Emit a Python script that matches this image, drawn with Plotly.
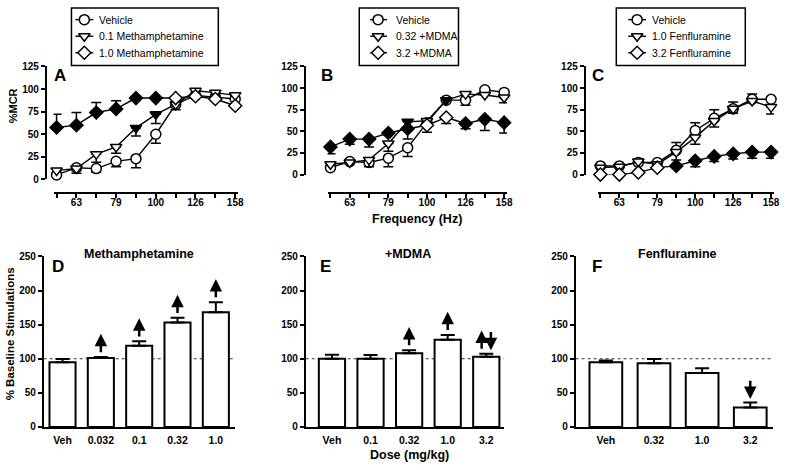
import plotly.graph_objects as go

W, H = 789, 470
FONT = "Liberation Sans, Arial, sans-serif"


def px(x):
    return x / W


def py(y):
    return 1 - y / H


# ---------------- data ----------------
freq_ticks = ["", "63", "", "79", "", "100", "", "126", "", "158"]
freq_idx = list(range(10))

# Panel A
a_veh = [5, 13, 12, 20, 23, 50, 83, 93, 91, 89]
a_veh_lo = [0, 3, 4, 6, 10, 10, 0, 0, 0, 0]
a_veh_hi = [0, 0, 0, 0, 0, 0, 0, 0, 0, 0]
a_veh_fill = [0] * 10
a_m01 = [10, 12, 28, 36, 57, 72, 83, 98, 96, 93]
a_m01_lo = [0, 5, 9, 7, 9, 10, 6, 0, 0, 0]
a_m01_hi = [0] * 10
a_m01_fill = [0, 0, 0, 0, 1, 1, 0, 0, 0, 0]
a_m10 = [57.5, 60, 74, 78, 90, 90, 90, 92, 89, 81.5]
a_m10_lo = [0] * 10
a_m10_hi = [14.5, 14, 11, 9, 0, 0, 0, 0, 0, 0]
a_m10_fill = [1, 1, 1, 1, 1, 1, 0, 0, 0, 0]

# Panel B
b_veh = [8, 15, 14, 19, 31, 60, 86, 86, 98, 95]
b_veh_lo = [0, 0, 0, 10, 10, 0, 0, 6, 0, 0]
b_veh_hi = [0] * 10
b_veh_fill = [0] * 10
b_d032 = [12, 14, 17, 36, 61, 62, 86, 93, 92, 89]
b_d032_lo = [0, 0, 8, 9, 0, 0, 0, 0, 0, 6]
b_d032_hi = [0] * 10
b_d032_fill = [0, 0, 0, 0, 1, 0, 1, 0, 0, 0]
b_d32 = [32, 41, 41, 48, 53, 57, 66, 59, 64, 60]
b_d32_lo = [8, 6, 9, 0, 12, 8, 7, 6, 13, 12]
b_d32_hi = [0] * 10
b_d32_fill = [1, 1, 1, 1, 1, 0, 0, 1, 1, 1]

# Panel C
c_veh = [10, 10, 14, 14, 28, 51, 65, 76, 87, 87]
c_veh_lo = [0] * 10
c_veh_hi = [0, 0, 4, 0, 9, 9, 10, 8, 6, 0]
c_veh_fill = [0] * 10
c_f10 = [8, 9, 15, 12, 26, 43, 62, 76, 85, 78]
c_f10_lo = [0, 0, 0, 0, 9, 8, 7, 5, 0, 8]
c_f10_hi = [0] * 10
c_f10_fill = [0] * 10
c_f32 = [0, 0, 2.5, 8, 10, 16, 21, 24, 26, 26]
c_f32_lo = [0, 0, 0, 0, 0, 7, 6, 6, 7, 7]
c_f32_hi = [0] * 10
c_f32_fill = [0, 0, 0, 0, 1, 1, 1, 1, 1, 1]

# Legend labels
leg_a = ["Vehicle", "0.1 Methamphetamine", "1.0 Methamphetamine"]
leg_b = ["Vehicle", "0.32 +MDMA", "3.2 +MDMA"]
leg_c = ["Vehicle", "1.0 Fenfluramine", "3.2 Fenfluramine"]

# Bar panels
d_doses = ["Veh", "0.032", "0.1", "0.32", "1.0"]
d_mean = [95, 101, 119, 153, 168]
d_err = [4.5, 1.5, 6.5, 7, 15]
d_arrow = ["", "up", "up", "up", "up"]

e_doses = ["Veh", "0.1", "0.32", "1.0", "3.2"]
e_mean = [100, 100, 108, 128, 103]
e_err = [6, 5.5, 4.5, 7, 4.5]
e_arrow = ["", "", "up", "up", "both"]

f_doses = ["Veh", "0.32", "1.0", "3.2"]
f_mean = [95, 93.5, 79, 28.5]
f_err = [2.5, 6, 7, 7.5]
f_arrow = ["", "", "", "down"]

fig = go.Figure()

SYMS = ["circle", "triangle-down", "diamond"]
SIZES = {"circle": 10, "triangle-down": 10, "diamond": 10}

# ---------------- line panels ----------------
line_panels = [
    ("x", "y", [
        (a_veh, a_veh_lo, a_veh_hi, a_veh_fill),
        (a_m01, a_m01_lo, a_m01_hi, a_m01_fill),
        (a_m10, a_m10_lo, a_m10_hi, a_m10_fill),
    ]),
    ("x2", "y2", [
        (b_veh, b_veh_lo, b_veh_hi, b_veh_fill),
        (b_d032, b_d032_lo, b_d032_hi, b_d032_fill),
        (b_d32, b_d32_lo, b_d32_hi, b_d32_fill),
    ]),
    ("x3", "y3", [
        (c_veh, c_veh_lo, c_veh_hi, c_veh_fill),
        (c_f10, c_f10_lo, c_f10_hi, c_f10_fill),
        (c_f32, c_f32_lo, c_f32_hi, c_f32_fill),
    ]),
]

for xa, ya, series in line_panels:
    for sym, (vals, lo, hi, fill) in zip(SYMS, series):
        fig.add_trace(go.Scatter(
            x=freq_idx, y=vals, xaxis=xa, yaxis=ya, mode="lines+markers",
            line=dict(color="black", width=1.4),
            marker=dict(symbol=sym, size=SIZES[sym],
                        color=["black" if f else "white" for f in fill],
                        line=dict(color="black", width=1.5)),
            error_y=dict(type="data", symmetric=False, array=hi, arrayminus=lo,
                         color="black", thickness=1.5, width=5),
            cliponaxis=False, showlegend=False, hoverinfo="skip",
        ))

# ---------------- bar panels ----------------
bar_panels = [
    ("x4", "y4", d_doses, d_mean, d_err, d_arrow),
    ("x5", "y5", e_doses, e_mean, e_err, e_arrow),
    ("x6", "y6", f_doses, f_mean, f_err, f_arrow),
]
annotations = []
shapes = []
GAP, ALEN, OFF = 5, 29, 0.12
for xa, ya, doses, mean, err, arrows in bar_panels:
    xs = list(range(len(doses)))
    fig.add_trace(go.Bar(
        x=xs, y=mean, xaxis=xa, yaxis=ya, width=0.68,
        marker=dict(color="white", line=dict(color="black", width=2)),
        error_y=dict(type="data", symmetric=False, array=err,
                     arrayminus=[0] * len(err), color="black",
                     thickness=2, width=7),
        showlegend=False, hoverinfo="skip",
    ))
    for i, (m, e, a) in enumerate(zip(mean, err, arrows)):
        top = m + e
        specs = []
        if a == "up":
            specs.append((i, top + GAP + ALEN, top + GAP))
        elif a == "down":
            specs.append((i, top + GAP, top + GAP + ALEN))
        elif a == "both":
            specs.append((i - OFF, top + GAP + ALEN, top + GAP))
            specs.append((i + OFF, top + GAP, top + GAP + ALEN))
        for xx, tip, tail in specs:
            annotations.append(dict(
                x=xx, y=tip, ax=xx, ay=tail, xref=xa, yref=ya,
                axref=xa, ayref=ya, text="", showarrow=True,
                arrowhead=2, arrowsize=1, arrowwidth=2.5, arrowcolor="black",
                standoff=0, startstandoff=0,
            ))
    shapes.append(dict(type="line", xref=f"{xa} domain", yref=ya, x0=0, x1=1,
                       y0=100, y1=100, layer="below",
                       line=dict(color="#333333", width=1, dash="dot")))

# ---------------- hand-drawn legends (pixel overlay axis x7/y7) ----------------
# (box left, box right, line left, line right, marker x, text x)
legend_geo = [
    (72, 220, 76, 94, 85, 98),
    (362, 462, 373, 390, 381, 397),
    (621, 751, 633, 651, 642, 655),
]
LEG_TOP, LEG_BOT = 2, 61
LEG_ROWS = [14, 31, 48]
for names, (bl, br, ll, lr, mx, tx) in zip([leg_a, leg_b, leg_c], legend_geo):
    shapes.append(dict(type="rect", xref="paper", yref="paper",
                       x0=px(bl), x1=px(br), y0=py(LEG_BOT), y1=py(LEG_TOP),
                       line=dict(color="black", width=1.5), fillcolor="white",
                       layer="below"))
    for name, sym, ry in zip(names, SYMS, LEG_ROWS):
        fig.add_trace(go.Scatter(
            x=[ll, lr], y=[ry, ry], xaxis="x7", yaxis="y7", mode="lines",
            line=dict(color="black", width=1.4), showlegend=False,
            hoverinfo="skip"))
        fig.add_trace(go.Scatter(
            x=[mx], y=[ry], xaxis="x7", yaxis="y7", mode="markers",
            marker=dict(symbol=sym, size=SIZES[sym], color="white",
                        line=dict(color="black", width=1.5)),
            showlegend=False, hoverinfo="skip", cliponaxis=False))
        annotations.append(dict(
            text=name, x=px(tx), y=py(ry), xref="paper", yref="paper",
            showarrow=False, xanchor="left", yanchor="middle",
            font=dict(family=FONT, size=10.5, color="black")))

# ---------------- layout ----------------
tickfont = dict(family=FONT, size=10, color="black", weight="bold")
common = dict(showgrid=False, zeroline=False, showline=True, linecolor="black",
              linewidth=1.5, ticks="outside", tickcolor="black", tickwidth=1.5,
              tickfont=tickfont)

layout_axes = {}
# line panels: (y-axis px, x first tick px, x last tick px, y0 px, y125 px)
line_geo = [(46, 57, 237, 178, 62), (307, 333, 508, 173, 62), (589, 605, 777, 173, 62)]
for k, (yx, x0, x1, yb, yt) in enumerate(line_geo):
    n = "" if k == 0 else str(k + 1)
    step = (x1 - x0) / 9
    layout_axes[f"xaxis{n}"] = dict(
        common, domain=[px(x0 - 0.15 * step), px(x1 + 0.15 * step)],
        range=[-0.15, 9.15], anchor="free", position=py(192),
        tickvals=freq_idx, ticktext=freq_ticks, ticklen=4,
        ticklabelstandoff=-4)
    layout_axes[f"yaxis{n}"] = dict(
        common, domain=[py(yb), py(yt)], range=[0, 125], anchor="free",
        position=px(yx), tickvals=[0, 25, 50, 75, 100, 125], ticklen=4)

# bar panels: (y-axis px, first centre px, last centre px, right end px)
bar_geo = [(44, 63, 217.5, 237, 5), (308, 334.5, 490, 508, 5), (580, 610.5, 756, 779, 4)]
for k, (yx, c0, c1, xr, n_bars) in enumerate(bar_geo):
    n = str(k + 4)
    s = (c1 - c0) / (n_bars - 1)
    doses = bar_panels[k][2]
    layout_axes[f"xaxis{n}"] = dict(
        common, domain=[px(yx), px(xr)], range=[(yx - c0) / s, (xr - c0) / s],
        anchor=f"y{n}", tickvals=list(range(n_bars)), ticktext=doses,
        ticks="", ticklabelstandoff=3,
        tickfont=dict(family=FONT, size=10.5, color="black", weight="bold"))
    layout_axes[f"yaxis{n}"] = dict(
        common, domain=[py(432), py(257)], range=[0, 250], anchor=f"x{n}",
        tickvals=[0, 50, 100, 150, 200, 250], ticklen=4)

layout_axes["xaxis7"] = dict(domain=[0, 1], range=[0, W], visible=False,
                             anchor="y7", fixedrange=True)
layout_axes["yaxis7"] = dict(domain=[0, 1], range=[H, 0], visible=False,
                             anchor="x7", fixedrange=True)


def txt(text, x, y, size, angle=0, xanchor="center"):
    return dict(text=text, x=px(x), y=py(y), xref="paper", yref="paper",
                showarrow=False, xanchor=xanchor, yanchor="middle",
                textangle=angle,
                font=dict(family=FONT, size=size, color="black", weight="bold"))


annotations += [
    txt("A", 52, 71, 17, xanchor="left"),
    txt("B", 321, 71, 17, xanchor="left"),
    txt("C", 595, 71, 17, xanchor="left"),
    txt("D", 50, 267, 17, xanchor="left"),
    txt("E", 320, 267, 17, xanchor="left"),
    txt("F", 595, 267, 17, xanchor="left"),
    txt("%MCR", 14, 102, 11, angle=-90),
    txt("Frequency (Hz)", 420, 219, 12.5),
    txt("% Baseline Stimulations", 11, 336, 11.5, angle=-90),
    txt("Dose (mg/kg)", 413, 461, 12.5),
    txt("Methamphetamine", 140, 254, 12.5),
    txt("+MDMA", 411, 254, 12.5),
    txt("Fenfluramine", 683, 254, 12.5),
]

fig.update_layout(
    width=W, height=H, margin=dict(l=0, r=0, t=0, b=0),
    paper_bgcolor="white", plot_bgcolor="rgba(0,0,0,0)",
    font=dict(family=FONT, color="black"),
    annotations=annotations, shapes=shapes,
    showlegend=False, bargap=0.3,
    **layout_axes,
)

fig.write_html("out.html", config={"displayModeBar": False},
               post_script="document.body.style.margin='0';")
